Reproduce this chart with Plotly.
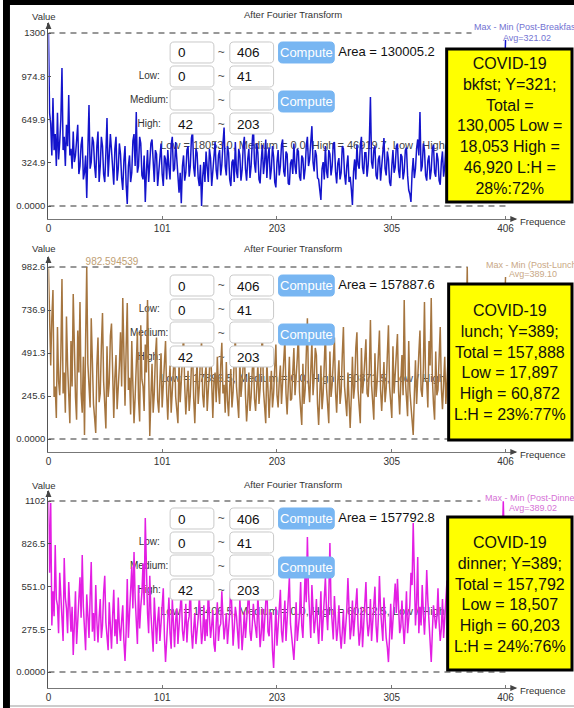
import plotly.graph_objects as go

W, H = 574, 708

# ---------------- data (one value per frequence 0..406) ----------------
freqs = list(range(0, 407))

bkfst = [1300,700,620,380,811,420,540,300,700,350,
         480,650,1037,420,520,300,610,450,834,380,
         430,280,560,330,380,520,610,240,300,460,
         520,200,250,380,60,420,759,280,330,520,
         480,300,210,450,560,180,300,520,450,240,
         180,400,661,220,350,540,420,250,160,430,
         520,190,280,470,390,210,120,340,450,160,
         15,300,380,180,250,490,540,300,706,250,
         300,520,470,230,200,380,30,260,420,180,
         310,470,500,260,180,420,390,150,260,400,
         470,240,150,380,350,200,420,290,200,460,
         520,260,280,480,360,190,100,250,20,300,
         380,190,250,420,450,220,300,510,560,290,
         220,430,400,210,150,310,0,220,330,180,
         410,290,180,430,360,150,260,400,480,270,
         200,380,420,230,310,470,590,300,230,450,
         400,200,150,330,350,180,480,260,210,430,
         380,190,270,450,520,280,190,350,430,210,
         300,480,620,320,250,470,400,200,170,340,
         460,240,330,500,210,370,440,200,280,450,
         370,180,140,330,420,230,300,460,500,260,
         220,410,390,170,160,320,350,240,470,300,
         240,430,410,220,190,380,360,200,280,450,
         520,300,350,480,600,330,260,420,380,210,
         200,120,45,280,330,200,450,260,210,420,
         390,230,300,470,480,260,170,320,360,200,
         250,450,430,240,160,300,380,180,220,130,
         8,260,350,200,460,310,280,450,520,290,
         240,400,400,220,310,480,819,330,280,420,
         450,230,200,350,380,190,300,460,510,280,
         230,410,350,180,150,300,420,250,290,450,
         470,270,210,390,370,200,260,420,440,230,
         120,90,30,250,360,210,280,430,500,380,
         706,260,300,470,420,230,190,340,380,200,
         270,430,460,250,220,400,350,190,160,330,
         410,220,300,450,480,260,230,410,390,200,
         170,350,440,250,280,430,360,190,200,380,
         470,260,310,460,420,220,180,350,390,210,
         250,420,450,240,200,380,360,190,290,440,
         480,260,220,410,400,210,160,320,350,200,
         270,430,440,300,600,900,1247]

lunch = [975,560,420,690,851,240,300,120,640,330,
         250,480,914,260,380,150,700,420,180,90,
         560,300,828,450,240,110,620,380,783,260,
         150,470,23,560,982.6,430,310,180,690,380,
         200,120,34,420,580,210,260,530,720,330,
         150,60,530,240,320,590,660,280,120,350,
         480,170,270,420,610,300,805,390,190,520,
         777,280,350,140,560,310,90,240,470,610,
         230,100,650,340,300,160,540,380,794,260,
         17,240,430,150,260,480,580,220,150,330,
         490,180,320,450,560,260,110,300,420,150,
         280,390,520,240,170,90,460,210,330,470,
         600,310,140,260,390,160,250,420,510,230,
         90,310,440,200,300,470,560,250,180,350,
         420,160,260,400,530,240,120,330,380,210,
         470,290,200,420,550,260,310,150,440,220,
         130,300,400,180,270,450,590,300,210,120,
         460,240,330,440,520,250,100,210,380,160,
         240,390,500,230,160,290,430,200,290,470,
         610,280,200,90,450,230,120,270,390,180,
         260,410,540,250,180,330,420,200,310,470,
         570,260,140,300,470,220,230,380,520,250,
         330,460,600,270,170,80,430,200,280,450,
         690,310,210,390,560,250,350,520,480,200,
         80,250,420,170,260,430,620,290,190,90,
         500,240,310,460,580,270,150,330,450,200,
         270,480,640,300,220,130,380,200,63,240,
         470,230,300,520,610,280,180,90,520,260,
         340,480,570,260,240,390,680,310,200,110,
         490,240,330,470,620,280,160,300,440,210,
         290,480,650,300,210,120,530,260,370,520,
         600,270,140,330,480,250,794,340,260,130,
         560,280,190,90,23,250,450,200,310,490,
         620,280,240,400,783,330,330,180,560,420,
         805,350,200,110,500,250,280,470,640,290,
         170,320,470,200,350,520,590,260,220,120,
         510,240,300,480,660,290,190,330,480,210,
         340,600,982,420,260,150,560,280,180,330,
         470,220,320,490,610,260,200,110,450,230,
         290,430,580,250,160,300,420,200,300,470,
         540,250,220,130,480,700,925]

dinner = [1102,640,1089,300,520,360,818,470,430,250,
          640,520,350,200,735,480,410,250,580,380,
          260,420,110,300,520,180,330,470,610,350,
          754,420,280,140,500,330,220,480,709,260,
          380,200,560,330,190,350,470,220,300,510,
          620,320,240,140,450,280,150,360,530,230,
          340,180,480,290,200,330,430,200,71,260,
          600,220,350,500,680,410,773,480,290,180,
          560,280,420,510,700,430,992,560,380,250,
          620,380,250,130,480,300,180,330,420,200,
          300,400,540,230,64,200,390,480,250,150,
          470,300,160,330,410,180,290,420,520,270,
          200,300,440,190,320,360,580,260,150,280,
          380,180,260,350,490,300,180,250,430,200,
          340,230,560,350,220,300,400,180,130,310,
          450,200,290,310,520,350,210,290,380,180,
          300,380,590,290,170,280,420,360,260,150,
          480,280,140,250,390,220,310,420,540,260,
          200,300,440,340,270,220,500,330,160,250,
          410,200,330,400,570,260,230,380,380,140,
          26,230,420,170,290,380,530,260,190,330,
          460,200,350,400,610,310,240,160,77,230,
          450,200,310,370,580,300,220,430,640,450,
          870,520,330,220,560,370,250,330,470,300,
          180,330,520,200,360,420,610,390,270,480,
          831,430,300,210,490,300,200,280,430,250,
          150,260,400,180,280,400,606,350,210,280,
          460,230,330,400,540,300,170,260,420,160,
          290,380,580,330,230,300,470,200,350,400,
          550,300,190,350,619,400,310,200,480,300,
          220,160,64,230,440,210,330,420,570,380,
          600,420,250,290,460,300,180,320,520,250,
          370,430,640,560,960,580,300,450,741,250,
          420,300,560,380,240,400,657,460,310,180,
          64,260,430,360,280,350,540,320,200,280,
          470,220,340,420,590,330,230,290,450,260,
          160,250,410,200,300,360,560,330,210,300,
          480,210,330,400,620,350,190,270,440,220,
          280,300,530,330,170,250,400,200,320,420,
          580,350,240,280,460,230,150,250,390,180,
          300,220,520,700,1100,820,380]

series = [bkfst, lunch, dinner]
x_ticks = [0, 101, 203, 305, 406]
y_tickvals = [[0, 324.9, 649.9, 974.8, 1300],
              [0, 245.6, 491.3, 736.9, 982.6],
              [0, 275.5, 551.0, 826.5, 1102]]
y_ticktext = [["0.0000", "324.9", "649.9", "974.8", "1300"],
              ["0.0000", "245.6", "491.3", "736.9", "982.6"],
              ["0.0000", "275.5", "551.0", "826.5", "1102"]]
max_vals = [1300, 982.6, 1102]
max_labels = ["1299.728300", "982.594539", "1102.018255"]
areas = ["130005.2", "157887.6", "157792.8"]
low_sums = ["18053.0", "17896.5", "18406.5"]
high_sums = ["46919.7", "60871.5", "60202.5"]
low_high = ["0.38", "0.29", "0.31"]
range_rows = [("0", "406"), ("0", "41"), ("", ""), ("42", "203")]
row_labels = ["", "Low:", "Medium:", "High:"]
meals = ["Post-Breakfast", "Post-Lunch", "Post-Dinner"]
avgs = ["321.02", "389.10", "389.02"]
box_lines = [
    ["COVID-19", "bkfst; Y=321;", "Total =", "130,005 Low =", "18,053 High =", "46,920 L:H =", "28%:72%"],
    ["COVID-19", "lunch; Y=389;", "Total = 157,888", "Low = 17,897", "High = 60,872", "L:H = 23%:77%"],
    ["COVID-19", "dinner; Y=389;", "Total = 157,792", "Low = 18,507", "High = 60,203", "L:H = 24%:76%"],
]
line_colors = ["#1414cc", "#a5753f", "#e31ee3"]
label_colors = ["#5555c8", "#c0a074", "#d454d4"]
mm_colors = ["#7272d2", "#c9a886", "#d672d6"]

# ---------------- geometry (pixels) ----------------
X0, X1 = 45.7, 516.0
PXU = 1.1317
XMAX = (X1 - X0) / PXU
axis_py = [219, 452, 688]
zero_py = [206, 439, 672]
top_py = [33, 267, 501]
arrow_py = [23, 257, 491]
dy = [0, 233, 466]
title_py = [15, 248, 484]
maxlab = [(47, 27), (85, 262), (47, 495)]
zerolab_py = [211, 445, 679]
mm_lab = [((471, 27), (501, 38)), ((484, 265), (507, 274)), ((483, 498), (507, 508))]
mm_end_px = [471, 467, 480]
ybox = [(446, 49, 572, 202), (448, 284, 572, 440), (447, 517, 572, 670)]

FONT = "Liberation Sans, Arial, sans-serif"


def fx(px):
    return px / W


def fy(py):
    return 1 - py / H


k = [(zero_py[p] - top_py[p]) / max_vals[p] for p in range(3)]

fig = go.Figure()
shapes = []
anns = []


def path_from(pts, close=True):
    s = ""
    for i, (a, b) in enumerate(pts):
        s += ("M" if i == 0 else "L") + f"{fx(a):.5f},{fy(b):.5f} "
    return s + ("Z" if close else "")


def rrect(x0, y0, x1, y1, r, fill, line, lw=1):
    def P(a, b):
        return f"{fx(a):.5f},{fy(b):.5f}"
    d = (f"M{P(x0+r,y0)} L{P(x1-r,y0)} Q{P(x1,y0)} {P(x1,y0+r)} L{P(x1,y1-r)} "
         f"Q{P(x1,y1)} {P(x1-r,y1)} L{P(x0+r,y1)} Q{P(x0,y1)} {P(x0,y1-r)} "
         f"L{P(x0,y0+r)} Q{P(x0,y0)} {P(x0+r,y0)} Z")
    shapes.append(dict(type="path", path=d, xref="paper", yref="paper",
                       fillcolor=fill, line=dict(color=line, width=lw), layer="above"))


def ann(px, py, s, size, color, xanchor="left"):
    anns.append(dict(x=fx(px), y=fy(py), xref="paper", yref="paper", text=s,
                     showarrow=False, xanchor=xanchor, yanchor="middle",
                     font=dict(size=size, color=color, family=FONT)))


for p in range(3):
    xa = "x" if p == 0 else f"x{p+1}"
    ya = "y" if p == 0 else f"y{p+1}"
    d = dy[p]

    def txt(px, py, s, size, color, pos="middle right"):
        fig.add_trace(go.Scatter(
            x=[(px - X0) / PXU], y=[(zero_py[p] - py) / k[p]], mode="text", text=[s],
            textposition=pos, textfont=dict(size=size, color=color, family=FONT),
            xaxis=xa, yaxis=ya, showlegend=False, hoverinfo="skip", cliponaxis=False))

    # texts lying under the curve
    txt(158, 146 + d, f"Low = {low_sums[p]}, Medium = 0.0, High = {high_sums[p]}, Low / High = {low_high[p]}",
        11, "#444444")
    for r, lab in enumerate(row_labels):
        if lab:
            txt(147, 52.5 + 24 * r + d, lab, 10, "#333333", "middle center")
        txt(219.5, 53 + 24 * r + d, "~", 12, "#555555", "middle center")
    txt(337, 53 + d, f"Area = {areas[p]}", 13, "#111111")
    txt(maxlab[p][0] - 2, maxlab[p][1], max_labels[p], 10, label_colors[p])
    txt(45, zerolab_py[p], "0.000000", 10, label_colors[p])

    # dashed reference lines
    fig.add_trace(go.Scatter(x=[0, (mm_end_px[p] - X0) / PXU], y=[max_vals[p], max_vals[p]],
                             mode="lines", line=dict(color="#777777", width=1.3, dash="6px,5px"),
                             xaxis=xa, yaxis=ya, showlegend=False, hoverinfo="skip"))
    fig.add_trace(go.Scatter(x=[0, 406], y=[0, 0],
                             mode="lines", line=dict(color="#777777", width=1.3, dash="6px,5px"),
                             xaxis=xa, yaxis=ya, showlegend=False, hoverinfo="skip"))
    # the spectrum
    fig.add_trace(go.Scatter(x=freqs, y=series[p], mode="lines",
                             line=dict(color=line_colors[p], width=1.5),
                             xaxis=xa, yaxis=ya, showlegend=False))

    ymin = -(axis_py[p] - zero_py[p]) / k[p]
    ymax = max_vals[p] + (top_py[p] - arrow_py[p]) / k[p]
    xkey = "xaxis" if p == 0 else f"xaxis{p+1}"
    ykey = "yaxis" if p == 0 else f"yaxis{p+1}"
    fig.update_layout(**{
        xkey: dict(domain=[fx(X0), fx(X1)], range=[0, XMAX], anchor=ya,
                   tickvals=x_ticks, ticktext=[str(v) for v in x_ticks],
                   ticks="inside", ticklen=3, tickcolor="#777777",
                   showline=True, linecolor="#777777", linewidth=1.2,
                   showgrid=False, zeroline=False, fixedrange=True,
                   tickfont=dict(size=10, color="#333333", family=FONT)),
        ykey: dict(domain=[fy(axis_py[p]), fy(arrow_py[p])], range=[ymin, ymax], anchor=xa,
                   tickvals=y_tickvals[p], ticktext=y_ticktext[p],
                   ticks="inside", ticklen=3, tickcolor="#555555",
                   showline=True, linecolor="#555555", linewidth=1.2,
                   showgrid=False, zeroline=False, fixedrange=True,
                   tickfont=dict(size=9.5, color="#333333", family=FONT)),
    })

    # arrows
    shapes.append(dict(type="path", xref="paper", yref="paper", layer="above",
                       path=path_from([(X1 - 6, axis_py[p] - 3), (X1 + 1, axis_py[p]), (X1 - 6, axis_py[p] + 3)]),
                       fillcolor="#444444", line=dict(width=0)))
    shapes.append(dict(type="path", xref="paper", yref="paper", layer="above",
                       path=path_from([(X0 - 3, arrow_py[p] + 6), (X0, arrow_py[p] - 1), (X0 + 3, arrow_py[p] + 6)]),
                       fillcolor="#444444", line=dict(width=0)))

    # headings
    ann(292, title_py[p], "After Fourier Transform", 9.5, "#333333", "center")
    ann(41, title_py[p] + 1, "Value", 9.5, "#333333", "center")
    ann(518, axis_py[p] + 2, "Frequence", 9.5, "#333333")
    ann(mm_lab[p][0][0], mm_lab[p][0][1], f"Max - Min ({meals[p]}", 9, mm_colors[p])
    ann(mm_lab[p][1][0], mm_lab[p][1][1], f"Avg={avgs[p]}", 9, mm_colors[p])

    # input widgets
    for r, (a, b) in enumerate(range_rows):
        yt = 42 + 24 * r + d - (1 if r >= 2 else 0)
        rrect(168, yt, 212, yt + 21, 4, "white", "#c9c9c9")
        rrect(228, yt, 272, yt + 21, 4, "white", "#c9c9c9")
        if a:
            ann(174, yt + 11, a, 13.5, "#111111")
        if b:
            ann(233, yt + 11, b, 13.5, "#111111")
    for yt in (42 + d, 91 + d):
        rrect(277, yt, 333, yt + 21, 4, "#78b6f2", "#78b6f2")
        ann(305, yt + 10.5, "Compute", 13, "white", "center")

    # yellow annotation box
    bx0, by0, bx1, by1 = ybox[p]
    shapes.append(dict(type="rect", xref="paper", yref="paper", layer="above",
                       x0=fx(bx0), x1=fx(bx1), y0=fy(by1), y1=fy(by0),
                       fillcolor="#ffff00", line=dict(color="black", width=3)))
    ann((bx0 + bx1) / 2, (by0 + by1) / 2 + 0.5, "<br>".join(box_lines[p]), 16, "#111111", "center")

# frame of the screenshot
shapes.append(dict(type="rect", xref="paper", yref="paper", layer="above",
                   x0=0, x1=fx(7), y0=0, y1=1, fillcolor="black", line=dict(width=0)))
shapes.append(dict(type="rect", xref="paper", yref="paper", layer="above",
                   x0=0, x1=1, y0=fy(5), y1=1, fillcolor="black", line=dict(width=0)))
shapes.append(dict(type="line", xref="paper", yref="paper", layer="above",
                   x0=fx(7), x1=1, y0=fy(706), y1=fy(706), line=dict(color="#9a9a9a", width=1)))

fig.update_layout(width=W, height=H, margin=dict(l=0, r=0, t=0, b=0),
                  paper_bgcolor="white", plot_bgcolor="white", showlegend=False,
                  font=dict(family=FONT), shapes=shapes, annotations=anns)

fig.write_html("out.html", config={"displayModeBar": False, "staticPlot": True},
               post_script="document.body.style.margin='0';document.body.style.padding='0';"
                           "document.body.style.overflow='hidden';")
